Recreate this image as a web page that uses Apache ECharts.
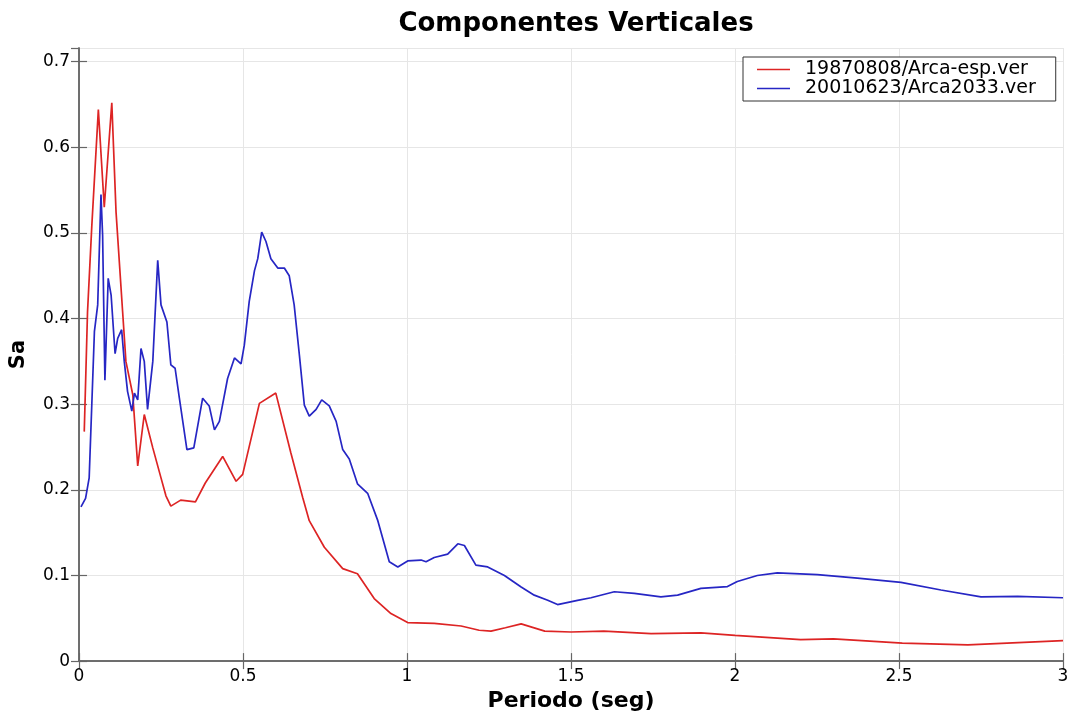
<!DOCTYPE html>
<html>
<head>
<meta charset="utf-8">
<script src="https://cdn.jsdelivr.net/npm/echarts@6/dist/echarts.min.js"></script>
<style>
  html, body { margin: 0; padding: 0; background: #fff; }
  #chart { width: 1073px; height: 717px; }
</style>
</head>
<body>
<div id="chart"></div>
<script>
// Spectral acceleration (Sa) vs period (seg), vertical components
const seriesNames = ['19870808/Arca-esp.ver', '20010623/Arca2033.ver'];

const redT = [0.016, 0.026, 0.039, 0.059, 0.077, 0.100, 0.113, 0.133, 0.143, 0.164,
  0.179, 0.199, 0.225, 0.250, 0.265, 0.280, 0.310, 0.355, 0.385, 0.438,
  0.479, 0.499, 0.550, 0.600, 0.646, 0.682, 0.702, 0.748, 0.804, 0.849,
  0.900, 0.951, 1.002, 1.083, 1.165, 1.220, 1.256, 1.300, 1.348, 1.420,
  1.500, 1.600, 1.744, 1.896, 2.000, 2.200, 2.300, 2.510, 2.710, 3.000];
const redSa = [0.268, 0.408, 0.508, 0.644, 0.530, 0.652, 0.524, 0.408, 0.350, 0.311,
  0.228, 0.288, 0.249, 0.214, 0.193, 0.181, 0.188, 0.186, 0.208, 0.239,
  0.210, 0.218, 0.301, 0.313, 0.243, 0.191, 0.164, 0.133, 0.108, 0.102,
  0.073, 0.0555, 0.045, 0.044, 0.041, 0.036, 0.035, 0.039, 0.0435, 0.035,
  0.034, 0.035, 0.032, 0.033, 0.030, 0.025, 0.026, 0.021, 0.019, 0.024];

const blueT = [0.006, 0.020, 0.031, 0.047, 0.057, 0.067, 0.072, 0.079, 0.089, 0.098,
  0.110, 0.118, 0.130, 0.138, 0.148, 0.161, 0.169, 0.179, 0.189, 0.199,
  0.209, 0.225, 0.240, 0.250, 0.268, 0.280, 0.293, 0.306, 0.329, 0.350,
  0.377, 0.397, 0.413, 0.428, 0.453, 0.474, 0.494, 0.504, 0.519, 0.535,
  0.545, 0.557, 0.570, 0.585, 0.606, 0.626, 0.641, 0.656, 0.672, 0.687,
  0.702, 0.723, 0.740, 0.763, 0.784, 0.804, 0.824, 0.849, 0.880, 0.911,
  0.946, 0.972, 1.002, 1.043, 1.058, 1.083, 1.124, 1.155, 1.175, 1.210,
  1.246, 1.297, 1.348, 1.388, 1.429, 1.459, 1.520, 1.561, 1.632, 1.693,
  1.774, 1.825, 1.896, 1.977, 2.007, 2.068, 2.129, 2.251, 2.373, 2.506,
  2.628, 2.750, 2.862, 3.000];
const blueSa = [0.180, 0.190, 0.214, 0.385, 0.416, 0.545, 0.497, 0.328, 0.447, 0.427,
  0.359, 0.377, 0.387, 0.350, 0.315, 0.292, 0.313, 0.305, 0.365, 0.350,
  0.294, 0.350, 0.468, 0.416, 0.396, 0.346, 0.342, 0.307, 0.247, 0.249,
  0.307, 0.298, 0.270, 0.280, 0.330, 0.354, 0.347, 0.369, 0.420, 0.456,
  0.470, 0.501, 0.490, 0.470, 0.459, 0.459, 0.450, 0.416, 0.357, 0.299,
  0.286, 0.294, 0.305, 0.298, 0.280, 0.247, 0.236, 0.207, 0.196, 0.164,
  0.116, 0.110, 0.117, 0.118, 0.116, 0.121, 0.125, 0.137, 0.135, 0.112,
  0.110, 0.100, 0.0865, 0.077, 0.071, 0.066, 0.071, 0.074, 0.081, 0.079,
  0.075, 0.077, 0.085, 0.087, 0.093, 0.100, 0.103, 0.101, 0.097, 0.092,
  0.083, 0.075, 0.0757, 0.074];

const xTickStep = 0.5;
const yTickStep = 0.1;

const pairs = (xs, ys) => xs.map((x, i) => [x, ys[i]]);

const FONT = 'DejaVu Sans';
const frameLine = { show: true, lineStyle: { color: '#666', width: 1.5 } };
const innerTick = { show: true, inside: true, length: 8, lineStyle: { color: '#666', width: 1.2 } };
const gridLine = { show: true, lineStyle: { color: '#e6e6e6', width: 1 } };

const chart = echarts.init(document.getElementById('chart'), null, { renderer: 'canvas' });
chart.setOption({
  backgroundColor: '#ffffff',
  animation: false,
  title: {
    text: 'Componentes Verticales',
    left: 571,
    textAlign: 'center',
    top: 6,
    textStyle: { fontFamily: FONT, fontSize: 26, fontWeight: 'bold', color: '#000' }
  },
  grid: { left: 78, right: 10, top: 48, bottom: 53, containLabel: false },
  legend: {
    orient: 'vertical',
    left: 743,
    top: 57,
    backgroundColor: '#fff',
    borderColor: '#333',
    borderWidth: 1,
    padding: [3, 20, 3, 14],
    itemGap: 0,
    icon: 'rect',
    itemWidth: 33,
    itemHeight: 1.5,
    textStyle: { fontFamily: FONT, fontSize: 19, lineHeight: 17, color: '#000', padding: [0, 0, 0, 10] },
    data: seriesNames
  },
  xAxis: [{
    type: 'value',
    min: 0, max: 3, interval: xTickStep,
    name: 'Periodo (seg)',
    nameLocation: 'middle',
    nameGap: 26,
    nameTextStyle: { fontFamily: FONT, fontSize: 22, fontWeight: 'bold', color: '#000' },
    axisLine: frameLine,
    axisTick: innerTick,
    axisLabel: { fontFamily: FONT, fontSize: 17, color: '#000', margin: 7 },
    splitLine: gridLine
  }, {
    type: 'value',
    position: 'top',
    min: 0, max: 3, interval: xTickStep,
    axisLine: frameLine,
    axisTick: innerTick,
    axisLabel: { show: false },
    splitLine: { show: false }
  }],
  yAxis: [{
    type: 'value',
    min: 0, max: 0.716, interval: yTickStep,
    name: 'Sa',
    nameLocation: 'middle',
    nameGap: 50,
    nameTextStyle: { fontFamily: FONT, fontSize: 21, fontWeight: 'bold', color: '#000' },
    axisLine: frameLine,
    axisTick: innerTick,
    axisLabel: { fontFamily: FONT, fontSize: 17, color: '#000', margin: 9, showMaxLabel: false },
    splitLine: gridLine
  }, {
    type: 'value',
    position: 'right',
    min: 0, max: 0.716, interval: yTickStep,
    axisLine: frameLine,
    axisTick: innerTick,
    axisLabel: { show: false },
    splitLine: { show: false }
  }],
  series: [{
    name: seriesNames[0],
    type: 'line',
    xAxisIndex: 0, yAxisIndex: 0,
    symbol: 'none',
    smooth: false,
    lineStyle: { color: '#dd2424', width: 1.7 },
    itemStyle: { color: '#dd2424' },
    data: pairs(redT, redSa)
  }, {
    name: seriesNames[1],
    type: 'line',
    xAxisIndex: 0, yAxisIndex: 0,
    symbol: 'none',
    smooth: false,
    lineStyle: { color: '#2626c4', width: 1.7 },
    itemStyle: { color: '#2626c4' },
    data: pairs(blueT, blueSa)
  }]
});
</script>
</body>
</html>
